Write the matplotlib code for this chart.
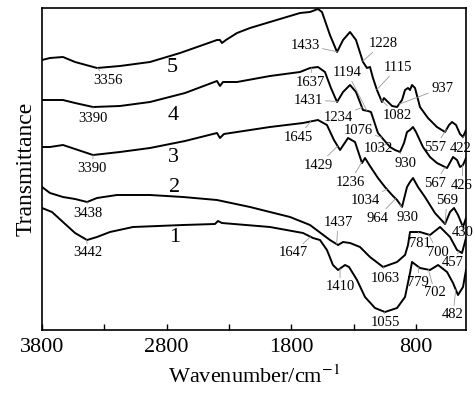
import numpy as np
import matplotlib.pyplot as plt

plt.rcParams['font.family'] = ['Liberation Serif', 'DejaVu Serif']
plt.rcParams['mathtext.fontset'] = 'stix'

# ------------------------------------------------------------------ #
#  Spectra (wavenumber in cm-1, transmittance in arbitrary offset units)
# ------------------------------------------------------------------ #
wn5 = [3800, 3736, 3632, 3535, 3359, 3175, 2934, 2693, 2397, 2373, 2357, 2325,
       2236, 2132, 1972, 1731, 1651, 1587, 1555, 1491, 1434, 1386, 1330, 1282,
       1226, 1194, 1170, 1146, 1114, 1074, 1058, 993, 953, 913, 889, 865, 849,
       833, 809, 769, 705, 633, 568, 536, 512, 480, 448, 424, 400]
t5 = [270, 272, 273, 268, 262, 264, 268, 277, 290, 290, 287, 290,
      297, 302, 308, 317, 318, 321, 318, 295, 278, 290, 298, 290,
      268, 262, 263, 252, 240, 228, 232, 224, 223, 230, 240, 242, 240,
      245, 242, 223, 212, 203, 198, 205, 208, 205, 196, 193, 200]

wn4 = [3800, 3736, 3632, 3535, 3391, 3175, 2934, 2653, 2397, 2373, 2349, 2236,
       1972, 1731, 1651, 1587, 1531, 1483, 1434, 1386, 1330, 1282, 1226, 1186,
       1162, 1106, 1058, 1009, 969, 929, 897, 873, 849, 825, 801, 745, 689,
       633, 552, 504, 472, 448, 424, 400]
t4 = [230, 230, 230, 227, 223, 224, 228, 237, 249, 244, 248, 248,
      254, 258, 262, 263, 258, 242, 228, 238, 245, 238, 220, 219,
      218, 197, 190, 183, 180, 178, 187, 198, 200, 203, 198, 183, 173,
      167, 162, 173, 170, 163, 165, 172]

wn3 = [3800, 3736, 3632, 3535, 3391, 3175, 2934, 2653, 2397, 2373, 2341, 2236,
       1972, 1707, 1587, 1515, 1459, 1410, 1346, 1290, 1234, 1210, 1170, 1106,
       1050, 993, 953, 913, 889, 873, 849, 825, 785, 729, 649, 568, 528, 496,
       464, 424, 400]
t3 = [183, 183, 185, 181, 175, 178, 182, 189, 197, 192, 196, 198,
      203, 207, 210, 205, 190, 180, 192, 188, 167, 172, 164, 152,
      143, 135, 130, 123, 135, 143, 148, 152, 143, 133, 117, 106, 118, 122,
      115, 103, 112]

wn2 = [3800, 3736, 3632, 3535, 3439, 3359, 3199, 2934, 2669, 2397, 2132, 1972,
       1811, 1651, 1491, 1426, 1386, 1330, 1250, 1170, 1065, 953, 889, 865, 849,
       769, 689, 608, 528, 472, 432, 400]
t2 = [143, 137, 133, 131, 128, 132, 135, 135, 133, 130, 123, 118,
      113, 105, 90, 85, 88, 87, 83, 73, 63, 68, 75, 85, 98,
      98, 95, 103, 93, 80, 77, 92]

wn1 = [3800, 3720, 3632, 3535, 3439, 3359, 3255, 3070, 2669, 2413, 2389, 2357,
       1972, 1707, 1627, 1571, 1515, 1467, 1426, 1370, 1338, 1274, 1210, 1130,
       1050, 953, 889, 849, 833, 769, 689, 624, 552, 504, 464, 424, 400]
t1 = [122, 118, 108, 97, 90, 93, 98, 103, 105, 106, 109, 107,
      103, 97, 92, 90, 80, 65, 60, 65, 63, 50, 33, 22,
      18, 22, 33, 57, 68, 62, 60, 65, 58, 47, 35, 43, 60]

# peak labels for each spectrum
peaks5 = ["3356", "1433", "1228", "1115", "1082", "937", "557", "422"]
peaks4 = ["3390", "1637", "1194", "1431", "1234", "1076", "1032", "930", "567", "426"]
peaks3 = ["3390", "1645", "1429", "1236", "1034", "964", "930", "569", "430"]
peaks2 = ["3438", "1437", "1063", "781", "700", "457"]
peaks1 = ["3442", "1647", "1410", "1055", "779", "702", "482"]

curve_names = ["5", "4", "3", "2", "1"]

# ------------------------------------------------------------------ #
#  Label placement (text centres, data coords)                         #
# ------------------------------------------------------------------ #
pos5 = [(3271, 250), (1691, 285), (1066, 287), (945, 263), (953, 215),
        (592, 242), (649, 183), (440, 182)]
pos4 = [(3391, 212), (1651, 248), (1354, 258), (1667, 230), (1426, 213),
        (1266, 200), (1106, 182), (889, 167), (649, 147), (432, 145)]
pos3 = [(3399, 162), (1747, 193), (1587, 165), (1330, 148), (1210, 130),
        (1114, 112), (873, 113), (552, 130), (424, 98)]
pos2 = [(3431, 117), (1426, 108), (1050, 52), (769, 87), (624, 78), (504, 67)]
pos1 = [(3431, 77), (1787, 77), (1410, 43), (1050, 7), (785, 48), (649, 37),
        (504, 15)]
name_pos = [(2758, 263), (2749, 215), (2749, 173), (2733, 143), (2733, 93)]


def curve_at(wn, t, x):
    return np.interp(x, wn[::-1], t[::-1])


fig = plt.figure(figsize=(4.75, 3.94), dpi=100)
ax = fig.add_axes([42 / 475, 64 / 394, 424 / 475, 322 / 394])

series = [(wn5, t5, peaks5, pos5), (wn4, t4, peaks4, pos4),
          (wn3, t3, peaks3, pos3), (wn2, t2, peaks2, pos2),
          (wn1, t1, peaks1, pos1)]

for (wn, t, peaks, pos), name, npos in zip(series, curve_names, name_pos):
    wn = np.array(wn, dtype=float)
    t = np.array(t, dtype=float)
    ax.plot(wn, t, color="black", lw=1.4)
    for lab, (tx, ty) in zip(peaks, pos):
        px = float(lab)
        py = curve_at(wn, t, px)
        ax.annotate(lab, xy=(px, py), xytext=(tx, ty),
                    fontsize=10.5, ha="center", va="center",
                    annotation_clip=False,
                    arrowprops=dict(arrowstyle="-", color="0.6", lw=0.6,
                                    shrinkA=0, shrinkB=0))
    ax.text(npos[0], npos[1], name, fontsize=16, ha="center", va="center")

ax.set_xlim(3800, 400)
ax.set_ylim(0, 322)
ax.set_xticks([3800, 3300, 2800, 2300, 1800, 1300, 800])
ax.set_xticklabels(["3800", "", "2800", "", "1800", "", "800"])
ax.set_yticks([])
ax.tick_params(axis="x", direction="in", length=4, width=1.0,
               labelsize=16, pad=6)
for sp in ax.spines.values():
    sp.set_linewidth(1.2)

ax.set_xlabel("Wavenumber/cm$^{-1}$", fontsize=16, labelpad=6)
ax.set_ylabel("Transmittance", fontsize=17, labelpad=4)

fig.savefig("out.png", dpi=100)
